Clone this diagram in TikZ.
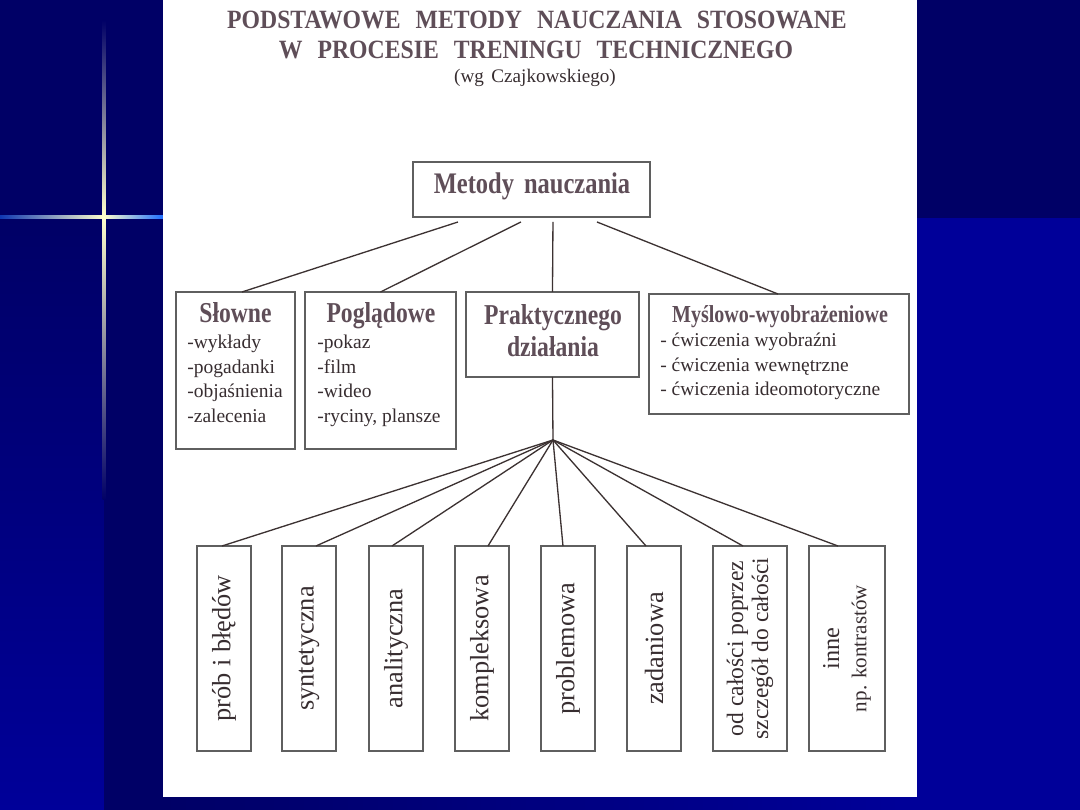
\documentclass[tikz,border=0pt]{standalone}
\usepackage{fontspec}
\setmainfont{Liberation Serif}
\newfontfamily\cond{Liberation Serif}[FakeStretch=0.82]
\newfontfamily\condT{Liberation Serif}[FakeStretch=0.9]
\usetikzlibrary{calc}
\definecolor{navyD}{RGB}{0,0,102}
\definecolor{navyA}{RGB}{0,0,153}
\definecolor{spark}{RGB}{255,255,205}
\definecolor{sparkB}{RGB}{30,110,255}
\definecolor{titlec}{RGB}{95,78,88}
\definecolor{txtc}{RGB}{55,45,48}
\definecolor{boxgray}{RGB}{95,95,95}
\definecolor{linec}{RGB}{60,50,50}
\begin{document}
\begin{tikzpicture}[x=0.02cm,y=-0.02cm,
  box/.style={draw=boxgray,line width=0.9pt,inner sep=0pt,outer sep=0pt,anchor=north west},
  conn/.style={draw=linec,line width=0.75pt},
  hd/.style={text=titlec,font=\cond\bfseries\fontsize{16.4}{18}\selectfont,anchor=base,inner sep=0pt},
  item/.style={text=txtc,font=\fontsize{11.1}{13}\selectfont,anchor=base west,inner sep=0pt},
  vt/.style={text=txtc,rotate=90,font=\fontsize{15}{17}\selectfont,inner sep=0pt,align=center},
  ttl/.style={anchor=base,text=titlec,font=\condT\bfseries\fontsize{15}{16}\selectfont,inner sep=0pt},
]
\useasboundingbox (0,0) rectangle (1080,810);
% background
\fill[navyA] (0,0) rectangle (1080,810);
\fill[navyD] (0,0) rectangle (1080,218);
\shade[top color=navyD,bottom color=navyA] (0,218) rectangle (104,810);
\fill[navyD] (104,0) rectangle (163,810);
\shade[left color=navyD,right color=navyA] (163,797) rectangle (917,810);
% sparkle
\shade[left color=sparkB!50!navyD,middle color=sparkB,right color=spark] (0,215.5) rectangle (104,218.5);
\shade[left color=spark,middle color=sparkB!80!white,right color=sparkB] (104,215.5) rectangle (163,218.5);
\shade[top color=navyD,middle color=sparkB!70!navyD,bottom color=spark] (102.5,20) rectangle (105.5,217);
\shade[top color=spark,middle color=sparkB!50!navyD,bottom color=navyD] (102.5,217) rectangle (105.5,500);
% page
\fill[white] (163,0) rectangle (917,797);
% titles
\node[ttl] (title1) at (537,29)
  {PODSTAWOWE\hspace{0.3cm}METODY\hspace{0.3cm}NAUCZANIA\hspace{0.3cm}STOSOWANE};
\node[ttl] (title2) at (536,59)
  {W\hspace{0.3cm}PROCESIE\hspace{0.3cm}TRENINGU\hspace{0.3cm}TECHNICZNEGO};
\node[anchor=base,text=txtc,font=\fontsize{10.9}{12}\selectfont,inner sep=0pt] (title3) at (535,83)
  {(wg\hspace{0.15cm}Czajkowskiego)};
% top node
\node[box,minimum width=4.74cm,minimum height=1.10cm] (metody) at (413,162) {};
\node[hd,font=\cond\bfseries\fontsize{17}{19}\selectfont] (tmetody) at (532,194) {Metody\hspace{0.2cm}nauczania};
% second row
\node[box,minimum width=2.38cm,minimum height=3.14cm] (slowne) at (176,292) {};
\node[box,minimum width=3.02cm,minimum height=3.14cm] (poglad) at (305,292) {};
\node[box,minimum width=3.46cm,minimum height=1.70cm] (prakt) at (466,292) {};
\node[box,minimum width=5.20cm,minimum height=2.40cm] (mysl) at (649,294) {};
\node[hd] (tslowne) at (235.5,323) {Słowne};
\node[item] (s1) at (187,349) {-wykłady};
\node[item] (s2) at (187,373.5) {-pogadanki};
\node[item] (s3) at (187,398) {-objaśnienia};
\node[item] (s4) at (187,422.5) {-zalecenia};
\node[hd] (tpoglad) at (381,323) {Poglądowe};
\node[item] (p1) at (317,349) {-pokaz};
\node[item] (p2) at (317,373.5) {-film};
\node[item] (p3) at (317,398) {-wideo};
\node[item] (p4) at (317,422.5) {-ryciny, plansze};
\node[hd] (tprakt1) at (553,325) {Praktycznego};
\node[hd] (tprakt2) at (553,357) {działania};
\node[hd,font=\cond\bfseries\fontsize{13.9}{16}\selectfont] (tmysl) at (780,323) {Myślowo-wyobrażeniowe};
\node[item] (m1) at (660,347) {- ćwiczenia wyobraźni};
\node[item] (m2) at (660,371.5) {- ćwiczenia wewnętrzne};
\node[item] (m3) at (660,396) {- ćwiczenia ideomotoryczne};
% connectors top
\draw[conn] ([xshift=-1.47cm,yshift=-0.1cm]metody.south) -- ([xshift=0.13cm]slowne.north);
\draw[conn] ([xshift=-0.21cm,yshift=-0.1cm]metody.south) -- (poglad.north);
\draw[conn] ([xshift=0.43cm,yshift=-0.1cm]metody.south) -- (prakt.north);
\draw[conn] ([xshift=1.31cm,yshift=-0.1cm]metody.south) -- ([xshift=-0.02cm]mysl.north);
% bottom row
\node[box,minimum width=1.08cm,minimum height=4.10cm] (b1) at (197,546) {};
\node[box,minimum width=1.08cm,minimum height=4.10cm] (b2) at (282,546) {};
\node[box,minimum width=1.08cm,minimum height=4.10cm] (b3) at (369,546) {};
\node[box,minimum width=1.08cm,minimum height=4.10cm] (b4) at (455,546) {};
\node[box,minimum width=1.08cm,minimum height=4.10cm] (b5) at (541,546) {};
\node[box,minimum width=1.08cm,minimum height=4.10cm] (b6) at (627,546) {};
\node[box,minimum width=1.48cm,minimum height=4.10cm] (b7) at (713,546) {};
\node[box,minimum width=1.52cm,minimum height=4.10cm] (b8) at (809,546) {};
\node[vt] (t1) at (b1.center) {prób i błędów};
\node[vt] (t2) at (b2.center) {syntetyczna};
\node[vt] (t3) at (b3.center) {analityczna};
\node[vt] (t4) at (b4.center) {kompleksowa};
\node[vt] (t5) at (b5.center) {problemowa};
\node[vt] (t6) at (b6.center) {zadaniowa};
\node[vt,font=\fontsize{13.4}{14.2}\selectfont] (t7) at (b7.center) {od całości poprzez\\szczegół do całości};
\node[vt,font=\fontsize{12}{15.5}\selectfont] (t8) at (b8.center) {{\fontsize{13.8}{15.5}\selectfont inne}\\np. kontrastów};
% hub
\coordinate (hub) at (553,440);
\draw[conn] (prakt.south) -- (hub);
\draw[conn] (hub) -- ([xshift=-0.04cm]b1.north);
\draw[conn] (hub) -- ([xshift=0.14cm]b2.north);
\draw[conn] (hub) -- ([xshift=-0.08cm]b3.north);
\draw[conn] (hub) -- ([xshift=0.12cm]b4.north);
\draw[conn] (hub) -- ([xshift=-0.10cm]b5.north);
\draw[conn] (hub) -- ([xshift=-0.16cm]b6.north);
\draw[conn] (hub) -- ([xshift=-0.14cm]b7.north);
\draw[conn] (hub) -- ([xshift=-0.18cm]b8.north);
\end{tikzpicture}
\end{document}
